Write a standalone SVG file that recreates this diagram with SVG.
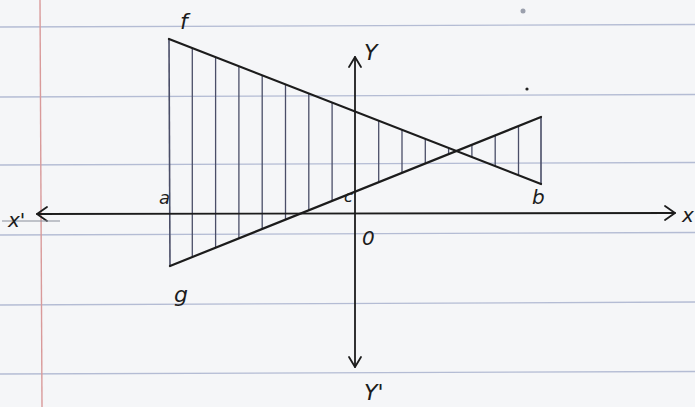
<svg xmlns="http://www.w3.org/2000/svg" width="695" height="407" viewBox="0 0 695 407">
<style>
.rule{stroke:#b4bcd4;stroke-width:1.3;fill:none}
.margin{stroke:#d99a9a;stroke-width:1.4;fill:none}
.out{stroke:#1c1c1c;stroke-width:2.2;fill:none;stroke-linecap:round;stroke-linejoin:round}
.hatch{stroke:#4a4e68;stroke-width:1.3;fill:none}
.axis{stroke:#1c1c1c;stroke-width:1.8;fill:none;stroke-linecap:round;stroke-linejoin:round}
.lbl{font-family:"DejaVu Sans","Liberation Sans",sans-serif;font-style:italic;fill:#1c1c1c}
</style>
<rect width="695" height="407" fill="#f5f6f8"/>
<g id="paper">
<line class="rule" x1="0" y1="27" x2="695" y2="24.5"/>
<line class="rule" x1="0" y1="97" x2="695" y2="94.5"/>
<line class="rule" x1="0" y1="165" x2="695" y2="162.5"/>
<line class="rule" x1="0" y1="235" x2="695" y2="232.5"/>
<line class="rule" x1="0" y1="305" x2="695" y2="302"/>
<line class="rule" x1="0" y1="374" x2="695" y2="371.5"/>
<line class="margin" x1="40" y1="0" x2="42" y2="407"/>
<circle cx="523" cy="11" r="2.5" fill="#9ba0ad"/>
<circle cx="527" cy="89" r="1.6" fill="#222"/>
</g>
<g id="hatching">
<line class="hatch" x1="192.3" y1="48.1" x2="192.3" y2="256.7"/>
<line class="hatch" x1="215.6" y1="57.2" x2="215.6" y2="247.3"/>
<line class="hatch" x1="238.9" y1="66.2" x2="238.9" y2="238.0"/>
<line class="hatch" x1="262.2" y1="75.3" x2="262.2" y2="228.7"/>
<line class="hatch" x1="285.5" y1="84.4" x2="285.5" y2="219.3"/>
<line class="hatch" x1="308.8" y1="93.5" x2="308.8" y2="210.0"/>
<line class="hatch" x1="332.1" y1="102.6" x2="332.1" y2="200.7"/>
<line class="hatch" x1="378.7" y1="120.7" x2="378.7" y2="182.0"/>
<line class="hatch" x1="402" y1="129.8" x2="402" y2="172.7"/>
<line class="hatch" x1="425.3" y1="138.9" x2="425.3" y2="163.3"/>
<line class="hatch" x1="448.6" y1="148.0" x2="448.6" y2="154.0"/>
<line class="hatch" x1="471.9" y1="144.7" x2="471.9" y2="157.1"/>
<line class="hatch" x1="495.2" y1="135.3" x2="495.2" y2="166.1"/>
<line class="hatch" x1="518.5" y1="126.0" x2="518.5" y2="175.2"/>
</g>
<g id="outline">
<line class="hatch" x1="169" y1="39" x2="170" y2="266" style="stroke-width:1.6"/>
<line class="hatch" x1="541" y1="117" x2="541" y2="184" style="stroke-width:1.6"/>
<line class="out" x1="169" y1="39" x2="541" y2="184"/>
<line class="out" x1="170" y1="266" x2="541" y2="117"/>
</g>
<g id="axes">
<line class="axis" x1="37" y1="214" x2="675" y2="213"/>
<polyline class="axis" points="47,207 37,214 47,221"/>
<polyline class="axis" points="665,206 675,213 665,220"/>
<line class="axis" x1="355" y1="57" x2="355" y2="367"/>
<polyline class="axis" points="349,67 355,57 361,67"/>
<polyline class="axis" points="349,357 355,367 361,357"/>
<line x1="2" y1="221" x2="60" y2="221" stroke="#8a8e99" stroke-width="1.2"/>
</g>
<g id="labels">
<text class="lbl" x="180" y="29" font-size="22">f</text>
<text class="lbl" x="159" y="204" font-size="18">a</text>
<text class="lbl" x="344" y="202" font-size="16">c</text>
<text class="lbl" x="532" y="204" font-size="20">b</text>
<text class="lbl" x="174" y="302" font-size="22">g</text>
<text class="lbl" x="362" y="245" font-size="20">0</text>
<text class="lbl" x="364" y="60" font-size="22">Y</text>
<text class="lbl" x="364" y="400" font-size="22">Y'</text>
<text class="lbl" x="682" y="222" font-size="20">x</text>
<text class="lbl" x="8" y="227" font-size="20">x'</text>
</g>
</svg>
